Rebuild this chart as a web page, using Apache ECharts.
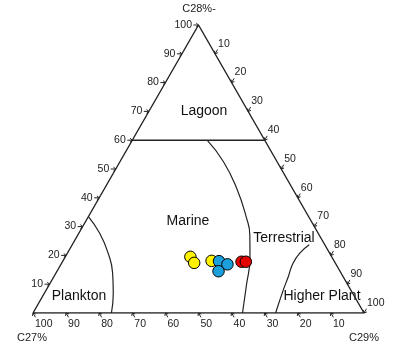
<!DOCTYPE html>
<html>
<head>
<meta charset="utf-8">
<script src="https://cdn.jsdelivr.net/npm/echarts@6/dist/echarts.min.js"></script>
<style>
    html, body { margin: 0; padding: 0; background: #fff; }
    #main { width: 407px; height: 351px; }
</style>
</head>
<body>
<div id="main"></div>
<script>
// sample compositions in %, C27 = 100 - C28 - C29
var yellowC28 = [19.5, 17.4, 18.1];
var yellowC29 = [37.8, 40.0, 44.9];
var blueC28 = [18.0, 16.9, 14.5];
var blueC29 = [47.2, 50.3, 48.8];
var redC28 = [17.8, 17.8];
var redC29 = [54.1, 55.4];

// tick labels of the three sides
var leftTicks = [10, 20, 30, 40, 50, 60, 70, 80, 90, 100];   // C28
var rightTicks = [10, 20, 30, 40, 50, 60, 70, 80, 90, 100];  // C29
var bottomTicks = [100, 90, 80, 70, 60, 50, 40, 30, 20, 10]; // C27

// region boundaries, pairs of [C28, C29]
var lagoonLine = [[60, 0], [60, 40]];
var terrestrialCurve = [[60, 22.6], [52.6, 31.2], [43.4, 39.8], [33.0, 48.0], [27.2, 51.9], [19.1, 56.0], [9.8, 59.6], [0, 63.3]];
var planktonCurve = [[33.5, 0], [27.7, 6.3], [20.8, 12.3], [13.9, 17.1], [6.9, 20.8], [0, 23.7]];
var higherPlantCurve = [[23.7, 71.6], [20.8, 70.2], [17.3, 69.9], [12.7, 70.8], [8.1, 71.6], [0, 73.3]];
var triangle = [[0, 0], [100, 0], [0, 100], [0, 0]];

// ternary -> cartesian (x along the base, y = C28)
function toXY(c28, c29) {
    return [c29 + c28 / 2, c28];
}
function pairs(list) {
    return list.map(function (p) { return toXY(p[0], p[1]); });
}
function points(c28, c29) {
    return c28.map(function (v, i) { return toXY(v, c29[i]); });
}

var FONT = '"Liberation Sans", Arial, sans-serif';
var INK = '#222';

function lineSeries(data, smooth, width) {
    return {
        type: 'line',
        data: data,
        smooth: smooth,
        symbol: 'none',
        silent: true,
        lineStyle: { color: INK, width: width }
    };
}

function dotSeries(data, color) {
    return {
        type: 'scatter',
        data: data,
        symbolSize: 11.5,
        itemStyle: { color: color, borderColor: '#000', borderWidth: 1, opacity: 1 },
        z: 5
    };
}

// one arrow tick + label for each value; dir is the outward direction of the stem
function tickSeries(values, toPoint, dir, labelFn) {
    return {
        type: 'custom',
        data: values,
        silent: true,
        renderItem: function (params, api) {
            var v = api.value(0);
            var p = api.coord(toPoint(v));
            var sx = p[0] + dir[0] * 5, sy = p[1] + dir[1] * 5;
            var a = Math.atan2(dir[1], dir[0]);
            var h1 = [p[0] + 3 * Math.cos(a + 0.7), p[1] + 3 * Math.sin(a + 0.7)];
            var h2 = [p[0] + 3 * Math.cos(a - 0.7), p[1] + 3 * Math.sin(a - 0.7)];
            var lab = labelFn(p);
            return {
                type: 'group',
                children: [
                    { type: 'polyline', shape: { points: [[sx, sy], p] }, style: { stroke: INK, lineWidth: 1, fill: null } },
                    { type: 'polyline', shape: { points: [h1, p, h2] }, style: { stroke: INK, lineWidth: 1, fill: null } },
                    {
                        type: 'text',
                        style: {
                            text: String(v), x: lab[0], y: lab[1],
                            align: lab[2], textAlign: lab[2],
                            verticalAlign: 'middle', textVerticalAlign: 'middle',
                            font: '10.5px ' + FONT, fill: INK
                        }
                    }
                ]
            };
        }
    };
}

var myChart = echarts.init(document.getElementById('main'));

var option = {
    animation: false,
    grid: { left: 33, right: 43, top: 25, bottom: 38 },
    xAxis: { type: 'value', min: 0, max: 100, show: false },
    yAxis: { type: 'value', min: 0, max: 100, show: false },
    graphic: [
        { type: 'text', x: 199, y: 9, style: { text: 'C28%-', font: '11px ' + FONT, fill: INK, align: 'center', verticalAlign: 'middle' } },
        { type: 'text', x: 32, y: 338, style: { text: 'C27%', font: '11px ' + FONT, fill: INK, align: 'center', verticalAlign: 'middle' } },
        { type: 'text', x: 364, y: 338, style: { text: 'C29%', font: '11px ' + FONT, fill: INK, align: 'center', verticalAlign: 'middle' } },
        { type: 'text', x: 204, y: 111, style: { text: 'Lagoon', font: '14px ' + FONT, fill: '#111', align: 'center', verticalAlign: 'middle' } },
        { type: 'text', x: 188, y: 221, style: { text: 'Marine', font: '14px ' + FONT, fill: '#111', align: 'center', verticalAlign: 'middle' } },
        { type: 'text', x: 284, y: 238, style: { text: 'Terrestrial', font: '14px ' + FONT, fill: '#111', align: 'center', verticalAlign: 'middle' } },
        { type: 'text', x: 79, y: 296, style: { text: 'Plankton', font: '14px ' + FONT, fill: '#111', align: 'center', verticalAlign: 'middle' } },
        { type: 'text', x: 322, y: 296, style: { text: 'Higher Plant', font: '14px ' + FONT, fill: '#111', align: 'center', verticalAlign: 'middle' } }
    ],
    series: [
        lineSeries(pairs(triangle), false, 1.4),
        lineSeries(pairs(lagoonLine), false, 1.4),
        lineSeries(pairs(terrestrialCurve), true, 1.2),
        lineSeries(pairs(planktonCurve), true, 1.2),
        lineSeries(pairs(higherPlantCurve), true, 1.2),
        tickSeries(leftTicks, function (v) { return toXY(v, 0); }, [-1, 0],
            function (p) { return [p[0] - 6.5, p[1], 'right']; }),
        tickSeries(rightTicks, function (v) { return toXY(100 - v, v); }, [0.5, -0.866],
            function (p) { return [p[0] + 3, p[1] - 10, 'left']; }),
        tickSeries(bottomTicks, function (v) { return toXY(0, 100 - v); }, [0.5, 0.866],
            function (p) { return [p[0] + 2, p[1] + 11, 'left']; }),
        dotSeries(points(yellowC28, yellowC29), '#fff200'),
        dotSeries(points(blueC28, blueC29), '#1ca0dc'),
        dotSeries(points(redC28, redC29), '#e50000')
    ]
};

myChart.setOption(option);
window.addEventListener('resize', function () {
    myChart.resize();
});
</script>
</body>
</html>
